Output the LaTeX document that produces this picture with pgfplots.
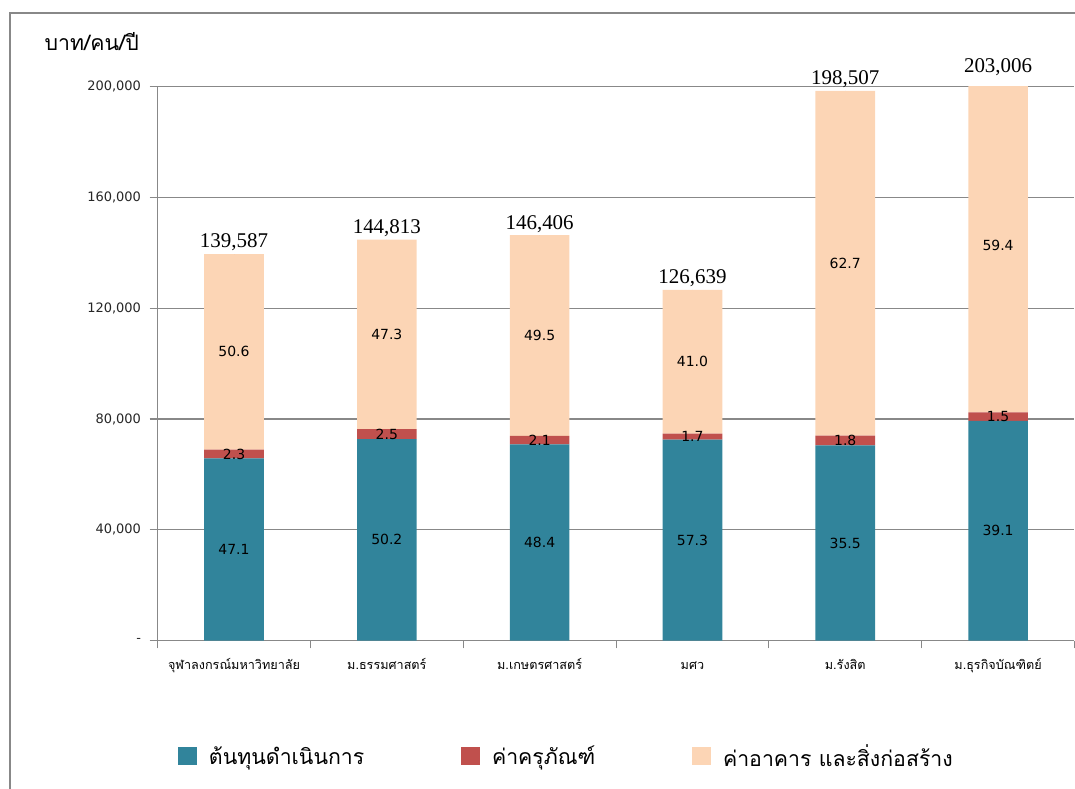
\documentclass[border=0pt]{standalone}
\usepackage{pgfplots}
\pgfplotsset{compat=1.18}
\usepackage{pgfplotstable}
\usepackage{fontspec}
\setmainfont{DejaVu Sans}
\newfontfamily\thai[Script=Thai]{Loma}
\newfontfamily\tnr{Liberation Serif}
\definecolor{cblue}{HTML}{31849B}
\definecolor{cred}{HTML}{C0504D}
\definecolor{cbeige}{HTML}{FCD5B5}
\definecolor{cgrid}{HTML}{888888}

% thousand baht per student per year; pb/pr/pe = share in percent
\pgfplotstableread{
x blue    red    beige    total   lab     pb   pr  pe
0 65.7455 3.2105 70.6310  139.587 139,587 47.1 2.3 50.6
1 72.6961 3.6203 68.4965  144.813 144,813 50.2 2.5 47.3
2 70.8605 3.0745 72.4710  146.406 146,406 48.4 2.1 49.5
3 72.5641 2.1529 51.9220  126.639 126,639 57.3 1.7 41.0
4 70.4700 3.5731 124.4639 198.507 198,507 35.5 1.8 62.7
5 79.3753 3.0451 120.5856 203.006 203,006 39.1 1.5 59.4
}\costs

\begin{document}
\begin{tikzpicture}
\begin{scope}[x=0.75pt, y=-0.75pt]
  \useasboundingbox (0,0) rectangle (1075,790);
  \draw[cgrid, line width=1.5pt] (10,13) rectangle (1100,810);
  \coordinate (ax0) at (158,642);
  \node[anchor=west, font=\thai\fontsize{16}{18}\selectfont] at (40,42) {บาท/คน/ปี};
\end{scope}

\begin{axis}[
  at={(ax0)}, anchor=south west,
  scale only axis, width=689.25pt, height=416.25pt,
  xmin=-0.5, xmax=5.5, ymin=0, ymax=200,
  ybar stacked, bar width=0.39,
  axis x line*=bottom, axis y line*=left,
  axis line style={cgrid, line width=0.8pt, -},
  ymajorgrids, grid style={cgrid, line width=0.8pt},
  ytick={0,40,80,120,160,200},
  yticklabels={-,{40,000},{80,000},{120,000},{160,000},{200,000}},
  xtick={-0.5,0.5,1.5,2.5,3.5,4.5,5.5}, x tick label as interval,
  xticklabels={จุฬาลงกรณ์มหาวิทยาลัย,ม.ธรรมศาสตร์,ม.เกษตรศาสตร์,มศว,ม.รังสิต,ม.ธุรกิจบัณฑิตย์},
  tick align=outside, major tick length=6pt,
  tick style={cgrid, line width=0.8pt},
  yticklabel style={font=\fontsize{9.75}{11}\selectfont, text=black!85, xshift=-3pt},
  xticklabel style={font=\thai\fontsize{9.5}{11}\selectfont, yshift=-4pt,
    text height=8pt, text depth=3pt},
  point meta=explicit symbolic,
  nodes near coords={\pgfplotspointmeta},
  % stacked nodes already sit at the middle of their segment
  nodes near coords style={font=\fontsize{10.5}{12}\selectfont, text=black, anchor=center},
  legend style={at={(0.018,-0.209)}, anchor=west, draw=none, fill=none,
    legend columns=-1, font=\thai\fontsize{16}{18}\selectfont,
    /tikz/every odd column/.append style={column sep=7pt},
    /tikz/every even column/.append style={column sep=71pt}},
  legend image code/.code={\fill[#1] (0pt,-6.75pt) rectangle (14pt,6.75pt);},
]
\addplot[fill=cblue, draw=none] table[x=x, y=blue, meta=pb] \costs;
\addlegendentry{ต้นทุนดำเนินการ}
\addplot[fill=cred, draw=none] table[x=x, y=red, meta=pr] \costs;
\addlegendentry{ค่าครุภัณฑ์}
\addplot[fill=cbeige, draw=none] table[x=x, y=beige, meta=pe] \costs;
\addlegendentry{ค่าอาคาร และสิ่งก่อสร้าง}
\end{axis}

% totals above the bars, and the label of the clipped top segment, not clipped
\begin{axis}[
  at={(ax0)}, anchor=south west,
  scale only axis, width=689.25pt, height=416.25pt,
  xmin=-0.5, xmax=5.5, ymin=0, ymax=200,
  hide axis, clip=false,
  point meta=explicit symbolic, nodes near coords={\pgfplotspointmeta},
]
\addplot[only marks, mark=*, mark size=0pt, mark options={draw=none, fill=none},
  nodes near coords style={font=\tnr\fontsize{15.75}{17}\selectfont, anchor=south, inner sep=2pt}]
  table[x=x, y=total, meta=lab] \costs;
\addplot[only marks, mark=*, mark size=0pt, mark options={draw=none, fill=none},
  nodes near coords style={font=\fontsize{10.5}{12}\selectfont, text=black, anchor=center}]
  coordinates {(5,142.713) [59.4]};
\end{axis}
\end{tikzpicture}
\end{document}
